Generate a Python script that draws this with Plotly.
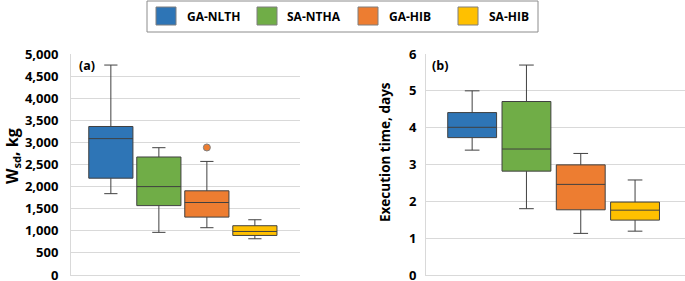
import plotly.graph_objects as go

# ---------------- data ----------------
SERIES = ["GA-NLTH", "SA-NTHA", "GA-HIB", "SA-HIB"]
COLORS = ["#2E75B6", "#70AD47", "#ED7D31", "#FFC000"]

# Panel (a): W_sd, kg
A_LOW = [1840, 965, 1070, 820]
A_Q1 = [2190, 1570, 1310, 895]
A_MED = [3085, 2000, 1640, 985]
A_Q3 = [3360, 2670, 1905, 1115]
A_HIGH = [4750, 2880, 2570, 1250]
A_OUTLIER_SERIES = ["GA-HIB"]
A_OUTLIER_VALUE = [2885]

# Panel (b): Execution time, days
B_LOW = [3.39, 1.80, 1.13, 1.19]
B_Q1 = [3.73, 2.82, 1.77, 1.49]
B_MED = [4.01, 3.42, 2.46, 1.76]
B_Q3 = [4.41, 4.71, 2.99, 1.98]
B_HIGH = [5.00, 5.70, 3.30, 2.58]

A_TICKS = list(range(0, 5001, 500))
B_TICKS = list(range(0, 7))

W, H = 685, 281
FONT = "Open Sans"


def px(x):
    return x / W


def py(y):
    return 1 - y / H


fig = go.Figure()

for i, name in enumerate(SERIES):
    fig.add_trace(go.Box(
        x=[name], q1=[A_Q1[i]], median=[A_MED[i]], q3=[A_Q3[i]],
        lowerfence=[A_LOW[i]], upperfence=[A_HIGH[i]],
        fillcolor=COLORS[i], line=dict(color="#404040", width=1),
        width=0.92, whiskerwidth=0.3, boxpoints=False,
        xaxis="x", yaxis="y", showlegend=False, hoverinfo="skip"))
    fig.add_trace(go.Box(
        x=[name], q1=[B_Q1[i]], median=[B_MED[i]], q3=[B_Q3[i]],
        lowerfence=[B_LOW[i]], upperfence=[B_HIGH[i]],
        fillcolor=COLORS[i], line=dict(color="#404040", width=1),
        width=0.9, whiskerwidth=0.3, boxpoints=False,
        xaxis="x2", yaxis="y2", showlegend=False, hoverinfo="skip"))

fig.add_trace(go.Scatter(
    x=A_OUTLIER_SERIES, y=A_OUTLIER_VALUE, mode="markers",
    marker=dict(color=COLORS[2], size=7, line=dict(color="#7f7f7f", width=1)),
    xaxis="x", yaxis="y", showlegend=False, hoverinfo="skip"))

GRID = "#d9d9d9"
ydom = [py(275), py(54)]
TICKFONT = dict(family=FONT, size=13, color="#000000", weight="bold")

fig.update_layout(
    width=W, height=H,
    margin=dict(l=0, r=0, t=0, b=0, autoexpand=False),
    paper_bgcolor="white", plot_bgcolor="white",
    font=dict(family=FONT, color="#000000"),
    hovermode=False,
    xaxis=dict(domain=[px(71), px(300)], type="category",
               categoryorder="array", categoryarray=SERIES,
               range=[-0.83, 3.94], showticklabels=False, ticks="",
               showgrid=False, zeroline=False, showline=True,
               linecolor=GRID, linewidth=1, anchor="y", automargin=False),
    yaxis=dict(domain=ydom, range=[0, 5000], tickvals=A_TICKS,
               tickformat=",d", showgrid=True, gridcolor=GRID, gridwidth=1,
               zeroline=False, showline=True, linecolor=GRID, linewidth=1,
               ticks="outside", ticklen=9, tickcolor="rgba(0,0,0,0)",
               ticklabeloverflow="allow", tickfont=TICKFONT, anchor="x",
               automargin=False),
    xaxis2=dict(domain=[px(426), 1.0], type="category",
                categoryorder="array", categoryarray=SERIES,
                range=[-0.85, 3.92], showticklabels=False, ticks="",
                showgrid=False, zeroline=False, showline=True,
                linecolor=GRID, linewidth=1, anchor="y2", automargin=False),
    yaxis2=dict(domain=ydom, range=[0, 6], tickvals=B_TICKS,
                showgrid=True, gridcolor=GRID, gridwidth=1,
                zeroline=False, showline=True, linecolor=GRID, linewidth=1,
                ticks="outside", ticklen=6, tickcolor="rgba(0,0,0,0)",
                ticklabeloverflow="allow", tickfont=TICKFONT, anchor="x2",
                automargin=False),
)

annotations = [
    dict(text="W<sub>sd</sub>, kg", x=px(12), y=py(156), textangle=-90,
         font=dict(family=FONT, size=16, color="#000000", weight="bold")),
    dict(text="Execution time, days", x=px(385), y=py(152), textangle=-90,
         font=dict(family=FONT, size=13.5, color="#000000", weight="bold")),
    dict(text="(a)", x=px(77), y=py(65), xanchor="left",
         font=dict(family=FONT, size=12.5, color="#000000", weight="bold")),
    dict(text="(b)", x=px(430), y=py(65), xanchor="left",
         font=dict(family=FONT, size=12.5, color="#000000", weight="bold")),
]

shapes = [
    dict(type="rect", xref="paper", yref="paper", x0=px(147), x1=px(538),
         y0=py(32), y1=py(1), line=dict(color="#8c8c8c", width=1),
         fillcolor="white", layer="below"),
]

sw_left = [156, 257, 358, 458]
txt_left = [185, 285, 387, 487]
for i, name in enumerate(SERIES):
    shapes.append(dict(type="rect", xref="paper", yref="paper",
                       x0=px(sw_left[i]), x1=px(sw_left[i] + 20),
                       y0=py(25), y1=py(7), fillcolor=COLORS[i],
                       line=dict(color="#7f7f7f", width=1)))
    annotations.append(dict(text=name, x=px(txt_left[i]), y=py(16.5),
                            xanchor="left",
                            font=dict(family=FONT, size=12, color="#000000",
                                      weight="bold")))

for a in annotations:
    a.setdefault("xref", "paper")
    a.setdefault("yref", "paper")
    a.setdefault("showarrow", False)
    a.setdefault("yanchor", "middle")
    a.setdefault("xanchor", "center")

fig.update_layout(annotations=annotations, shapes=shapes)

fig.write_html(
    "out.html",
    config={"displayModeBar": False, "staticPlot": True},
    post_script="document.body.style.margin='0';"
                "document.body.style.overflow='hidden';",
)
